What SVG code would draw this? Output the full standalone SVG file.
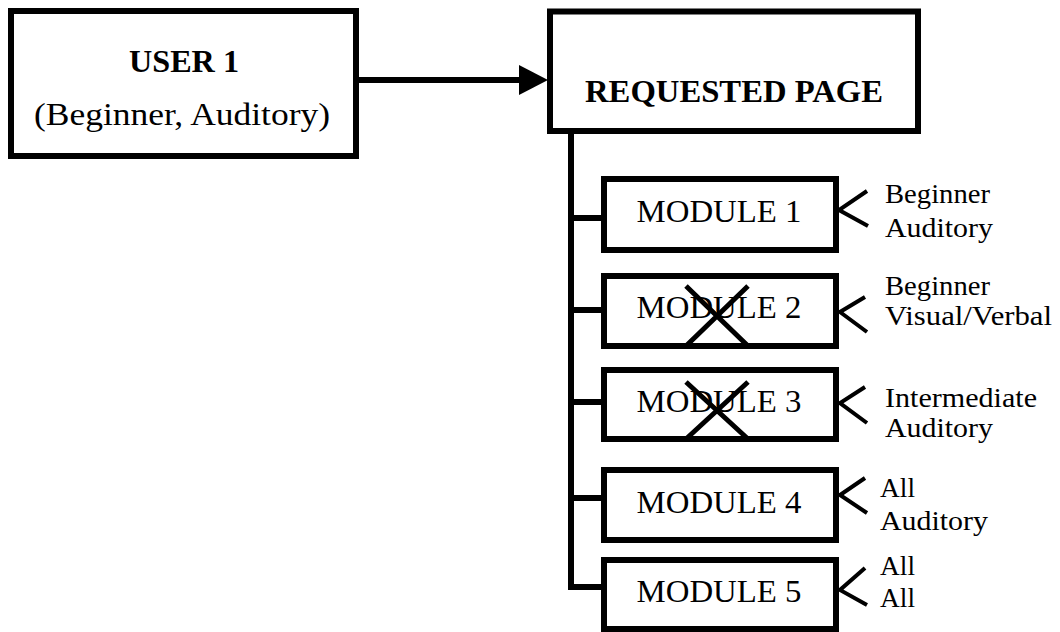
<svg xmlns="http://www.w3.org/2000/svg" width="1060" height="632" viewBox="0 0 1060 632">
<style>
.box{fill:#fff;stroke:#000;stroke-width:6}
.ln{fill:none;stroke:#000;stroke-width:6}
.chev{fill:none;stroke:#000;stroke-width:4}
.x{fill:none;stroke:#000;stroke-width:5}
.t{font-family:"Liberation Serif","Times New Roman",serif;fill:#000}
.b{font-weight:bold;font-size:32px;text-anchor:middle}
.m{font-size:32.5px;text-anchor:middle}
.s{font-size:27px}
</style>
<rect width="1060" height="632" fill="#fff"/>
<g id="connectors">
<path class="ln" d="M356,80 H521"/>
<polygon points="519,65 548,80 519,95" fill="#000"/>
<path class="ln" d="M571,131 V590"/>
<path class="ln" d="M568,218 H604 M568,310 H604 M568,402 H604 M568,498 H604 M568,587 H604"/>
</g>
<g id="user1">
<rect class="box" x="11" y="11" width="345" height="145"/>
<text class="t b" x="184" y="72" textLength="110" lengthAdjust="spacingAndGlyphs">USER 1</text>
<text class="t" x="182" y="125" font-size="32" text-anchor="middle" textLength="296" lengthAdjust="spacingAndGlyphs">(Beginner, Auditory)</text>
</g>
<g id="requested">
<rect class="box" x="550" y="11.5" width="368" height="119.5"/>
<text class="t b" x="734" y="102" textLength="298" lengthAdjust="spacingAndGlyphs">REQUESTED PAGE</text>
</g>
<g id="module1">
<rect class="box" x="604" y="179" width="232" height="71"/>
<text class="t m" x="719" y="222" textLength="165" lengthAdjust="spacingAndGlyphs">MODULE 1</text>
<path class="chev" d="M867,191 L839,210 L868,226"/>
<text class="t s" x="885" y="203" textLength="105" lengthAdjust="spacingAndGlyphs">Beginner</text>
<text class="t s" x="885" y="237" textLength="108" lengthAdjust="spacingAndGlyphs">Auditory</text>
</g>
<g id="module2">
<rect class="box" x="604" y="276" width="232" height="70"/>
<text class="t m" x="719" y="318" textLength="165" lengthAdjust="spacingAndGlyphs">MODULE 2</text>
<path class="x" d="M686,286 L748,346 M748,286 L686,346"/>
<path class="chev" d="M865,297 L840,312 L867,332"/>
<text class="t s" x="885" y="295" textLength="105" lengthAdjust="spacingAndGlyphs">Beginner</text>
<text class="t s" x="885" y="325" textLength="167" lengthAdjust="spacingAndGlyphs">Visual/Verbal</text>
</g>
<g id="module3">
<rect class="box" x="604" y="370" width="232" height="69"/>
<text class="t m" x="719" y="412" textLength="165" lengthAdjust="spacingAndGlyphs">MODULE 3</text>
<path class="x" d="M686,382 L748,439 M748,382 L686,439"/>
<path class="chev" d="M865,387 L840,403 L867,423"/>
<text class="t s" x="885" y="407" textLength="152" lengthAdjust="spacingAndGlyphs">Intermediate</text>
<text class="t s" x="885" y="437" textLength="108" lengthAdjust="spacingAndGlyphs">Auditory</text>
</g>
<g id="module4">
<rect class="box" x="604" y="470" width="232" height="70"/>
<text class="t m" x="719" y="513" textLength="165" lengthAdjust="spacingAndGlyphs">MODULE 4</text>
<path class="chev" d="M865,478 L840,495 L867,513"/>
<text class="t s" x="880" y="497" textLength="35" lengthAdjust="spacingAndGlyphs">All</text>
<text class="t s" x="880" y="530" textLength="108" lengthAdjust="spacingAndGlyphs">Auditory</text>
</g>
<g id="module5">
<rect class="box" x="604" y="560" width="232" height="69"/>
<text class="t m" x="719" y="602" textLength="165" lengthAdjust="spacingAndGlyphs">MODULE 5</text>
<path class="chev" d="M865,568 L840,590 L867,605"/>
<text class="t s" x="880" y="575" textLength="35" lengthAdjust="spacingAndGlyphs">All</text>
<text class="t s" x="880" y="607" textLength="35" lengthAdjust="spacingAndGlyphs">All</text>
</g>
</svg>
